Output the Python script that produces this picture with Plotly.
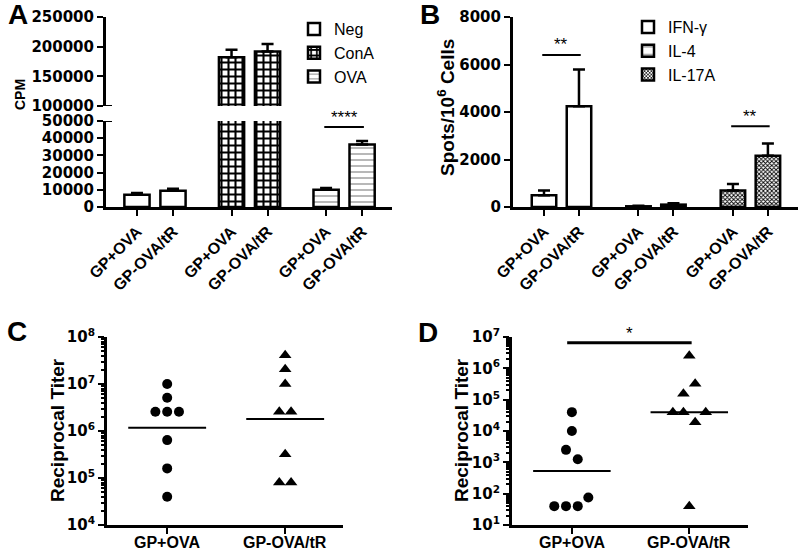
import numpy as np
import plotly.graph_objects as go

# ---------------- data ----------------
samples = ["GP+OVA", "GP-OVA/tR"]

# Panel A (CPM)
a_series = ["Neg", "ConA", "OVA"]
cpm_neg = [7100, 9400]
cpm_neg_err = [1000, 1200]
cpm_cona = [182300, 192000]
cpm_cona_err = [12400, 12300]
cpm_ova = [10000, 36300]
cpm_ova_err = [1000, 2000]
a_sig_level = 46500
a_sig_text = "****"

# Panel B (Spots/10^6 cells)
b_series = ["IFN-γ", "IL-4", "IL-17A"]
spots_ifn = [490, 4240]
spots_ifn_err = [210, 1545]
spots_il4 = [30, 100]
spots_il4_err = [20, 60]
spots_il17 = [700, 2160]
spots_il17_err = [270, 510]
b_sig_levels = [6400, 3400]
b_sig_groups = [0, 2]
b_sig_text = "**"

# Panel C (reciprocal titer)
c_gp_ova = [1.0e7, 5.1e6, 2.56e6, 2.56e6, 2.56e6, 6.4e5, 1.6e5, 4.0e4]
c_gp_ova_tr = [4.1e7, 2.05e7, 1.0e7, 2.56e6, 2.56e6, 3.2e5, 8.0e4, 8.0e4]
c_gp_ova_jit = [0, 0, -0.1, 0, 0.1, 0, 0, 0]
c_gp_ova_tr_jit = [0, 0, 0, -0.05, 0.05, 0, -0.05, 0.05]
c_decades = [4, 5, 6, 7, 8]

# Panel D (reciprocal titer)
d_gp_ova = [4.0e4, 1.0e4, 2.5e3, 1.25e3, 75, 40, 40, 40]
d_gp_ova_tr = [2.5e6, 3.2e5, 1.55e5, 4.0e4, 4.0e4, 4.0e4, 1.9e4, 40]
d_gp_ova_jit = [0, 0, -0.05, 0.05, 0.14, -0.15, -0.05, 0.05]
d_gp_ova_tr_jit = [0, 0.05, -0.05, -0.14, -0.05, 0.14, 0.05, 0]
d_decades = [1, 2, 3, 4, 5, 6, 7]
d_sig_level = 6.6e6
d_sig_text = "*"

# ---------------- style ----------------
W, H = 800, 550
FONT = "Arial, Liberation Sans, sans-serif"
WIDE = "DejaVu Sans, Verdana, sans-serif"
GAP_A = 2.625
GAP_B = 2.7
BAR_W = 0.7
LW = 2.5


def fx(p):
    return p / W


def fy(p):
    return 1 - p / H


def geo_mean(v):
    return float(10 ** np.mean(np.log10(v)))


fig = go.Figure()

pat_none = dict(shape="")
pat_cona = dict(shape="+", size=7, solidity=0.5, fgcolor="black", bgcolor="white")
pat_ova = dict(shape="-", size=6, solidity=0.2, fgcolor="#888888", bgcolor="white")
pat_il4 = dict(shape="-", size=11, solidity=0.15, fgcolor="#777777", bgcolor="white")
pat_il17 = dict(shape="x", size=3, solidity=0.5, fgcolor="black", bgcolor="white")


def err(arr):
    return dict(type="data", array=arr, arrayminus=[0] * len(arr), symmetric=False,
                color="black", thickness=LW, width=6)


# ----- Panel A -----
a_vals = [cpm_neg, cpm_cona, cpm_ova]
a_errs = [cpm_neg_err, cpm_cona_err, cpm_ova_err]
a_pats = [pat_none, pat_cona, pat_ova]
a_x_all = []
for gi, (name, vals, errs, pat) in enumerate(zip(a_series, a_vals, a_errs, a_pats)):
    xs = [gi * GAP_A + si for si in range(len(samples))]
    a_x_all += xs
    is_cona = name == "ConA"
    fig.add_trace(go.Bar(
        x=xs, y=vals, width=BAR_W, name=name, legend="legend",
        marker=dict(color="white", line=dict(color="black", width=LW), pattern=pat),
        error_y=None if is_cona else err(errs),
        xaxis="x", yaxis="y", showlegend=True,
    ))
    if is_cona:
        fig.add_trace(go.Bar(
            x=xs, y=vals, width=BAR_W, name=name, legend="legend",
            marker=dict(color="white", line=dict(color="black", width=LW), pattern=pat),
            error_y=err(errs), xaxis="x", yaxis="y2", showlegend=False,
        ))

# ----- Panel B -----
b_vals = [spots_ifn, spots_il4, spots_il17]
b_errs = [spots_ifn_err, spots_il4_err, spots_il17_err]
b_pats = [pat_none, pat_il4, pat_il17]
b_x_all = []
for gi, (name, vals, errs, pat) in enumerate(zip(b_series, b_vals, b_errs, b_pats)):
    xs = [gi * GAP_B + si for si in range(len(samples))]
    b_x_all += xs
    fig.add_trace(go.Bar(
        x=xs, y=vals, width=BAR_W, name=name, legend="legend2",
        marker=dict(color="white", line=dict(color="black", width=LW), pattern=pat),
        error_y=err(errs), xaxis="x3", yaxis="y3",
    ))


# ----- Panels C & D -----
def dots(xa, ya, vals, jit, pos, symbol, size):
    fig.add_trace(go.Scatter(
        x=[pos + j for j in jit], y=vals, mode="markers", showlegend=False,
        marker=dict(symbol=symbol, size=size, color="black"),
        xaxis=xa, yaxis=ya, cliponaxis=False,
    ))
    gm = geo_mean(vals)
    fig.add_trace(go.Scatter(
        x=[pos - 0.33, pos + 0.33], y=[gm, gm], mode="lines", showlegend=False,
        line=dict(color="black", width=2), xaxis=xa, yaxis=ya,
    ))


dots("x4", "y4", c_gp_ova, c_gp_ova_jit, 1, "circle", 10)
dots("x4", "y4", c_gp_ova_tr, c_gp_ova_tr_jit, 2, "triangle-up", 11)
dots("x5", "y5", d_gp_ova, d_gp_ova_jit, 1, "circle", 10)
dots("x5", "y5", d_gp_ova_tr, d_gp_ova_tr_jit, 2, "triangle-up", 11)

# ---------------- axes ----------------
bold_tick = dict(family=FONT, size=16, color="black", weight="bold")
wide_tick = dict(family=WIDE, size=15, color="black", weight="bold")
common = dict(showline=True, linecolor="black", linewidth=3, showgrid=False, zeroline=False,
              ticks="outside", tickcolor="black", tickwidth=2, ticklen=6, automargin=False)
minor_log = dict(ticks="outside", ticklen=3, tickwidth=1.5, tickcolor="black", dtick="D1")

fig.update_layout(
    template="none",
    xaxis=dict(domain=[fx(106), fx(392)], range=[-0.86, 7.08], anchor="y",
               tickvals=a_x_all, ticktext=samples * 3, tickangle=-45,
               tickfont=bold_tick, **common),
    yaxis=dict(domain=[fy(207), fy(121)], range=[0, 50000], dtick=10000, tickformat="d",
               anchor="x", tickfont=wide_tick, **common),
    yaxis2=dict(domain=[fy(106), fy(17)], range=[100000, 250000], dtick=50000, tickformat="d",
                anchor="x", tickfont=wide_tick, **common),
    xaxis3=dict(domain=[fx(513), fx(798)], range=[-0.886, 7.26], anchor="y3",
                tickvals=b_x_all, ticktext=samples * 3, tickangle=-45,
                tickfont=bold_tick, **common),
    yaxis3=dict(domain=[fy(207), fy(17)], range=[0, 8000], dtick=2000, tickformat="d",
                anchor="x3", tickfont=wide_tick, **common),
    xaxis4=dict(domain=[fx(107), fx(343)], range=[0.49, 2.49], anchor="y4",
                tickvals=[1, 2], showticklabels=False, **common),
    yaxis4=dict(domain=[fy(525), fy(337)], type="log", range=[4, 8],
                tickvals=[10 ** d for d in c_decades],
                ticktext=[f"10<sup>{d}</sup>" for d in c_decades],
                anchor="x4", tickfont=wide_tick, minor=minor_log, **common),
    xaxis5=dict(domain=[fx(512), fx(748)], range=[0.49, 2.5], anchor="y5",
                tickvals=[1, 2], showticklabels=False, **common),
    yaxis5=dict(domain=[fy(525), fy(337)], type="log", range=[1, 7],
                tickvals=[10 ** d for d in d_decades],
                ticktext=[f"10<sup>{d}</sup>" for d in d_decades],
                anchor="x5", tickfont=wide_tick, minor=minor_log, **common),
)

# ---------------- significance ----------------
shapes = []
annos = []


def sig(xref, yref, x0, x1, y, text, width=2, log=False, shift=10):
    shapes.append(dict(type="line", xref=xref, yref=yref, x0=x0, x1=x1, y0=y, y1=y,
                       line=dict(color="black", width=width)))
    annos.append(dict(xref=xref, yref=yref, x=(x0 + x1) / 2, y=np.log10(y) if log else y,
                      text=text, showarrow=False, yshift=shift,
                      font=dict(family=FONT, size=17, color="black")))


sig("x", "y", 2 * GAP_A - 0.05, 2 * GAP_A + 1.05, a_sig_level, a_sig_text)
for g, lvl in zip(b_sig_groups, b_sig_levels):
    sig("x3", "y3", g * GAP_B - 0.05, g * GAP_B + 1.05, lvl, b_sig_text)
sig("x5", "y5", 0.96, 2.02, d_sig_level, d_sig_text, width=3, log=True, shift=9)

# category labels under panels C and D
for xref in ["x4", "x5"]:
    for i, s in enumerate(samples):
        annos.append(dict(xref=xref, yref="paper", x=i + 1, y=fy(542), text=s,
                          showarrow=False, xanchor="center", yanchor="middle",
                          font=bold_tick))

# axis-break caps
shapes.append(dict(type="line", xref="paper", yref="y2", x0=fx(106), x1=fx(112),
                   y0=100000, y1=100000, line=dict(color="black", width=2)))
shapes.append(dict(type="line", xref="paper", yref="y", x0=fx(106), x1=fx(112),
                   y0=50000, y1=50000, line=dict(color="black", width=2)))

# panel letters
for letter, (px, py) in zip("ABCD", [(18, 15), (430, 14), (17, 331), (428, 332)]):
    annos.append(dict(xref="paper", yref="paper", x=fx(px), y=fy(py), text=letter,
                      showarrow=False, xanchor="center", yanchor="middle",
                      font=dict(family=FONT, size=28, color="black", weight="bold")))

# y titles
for text, (px, py), size in [
    ("CPM", (20, 95), 14),
    ("Spots/10<sup>6</sup> Cells", (446, 108), 19),
    ("Reciprocal Titer", (57, 430), 19),
    ("Reciprocal Titer", (461, 430), 19),
]:
    annos.append(dict(xref="paper", yref="paper", x=fx(px), y=fy(py), text=text,
                      textangle=-90, showarrow=False, xanchor="center", yanchor="middle",
                      font=dict(family=FONT, size=size, color="black", weight="bold")))

fig.update_layout(
    width=W, height=H, margin=dict(l=0, r=0, t=0, b=0, autoexpand=False),
    paper_bgcolor="white", plot_bgcolor="white", barmode="overlay",
    font=dict(family=FONT, color="black"),
    shapes=shapes, annotations=annos,
    legend=dict(x=fx(294), y=fy(12), xanchor="left", yanchor="top", bgcolor="rgba(0,0,0,0)",
                font=dict(family=FONT, size=16, color="black"), tracegroupgap=0, borderwidth=0),
    legend2=dict(x=fx(628), y=fy(10), xanchor="left", yanchor="top", bgcolor="rgba(0,0,0,0)",
                 font=dict(family=FONT, size=16, color="black"), tracegroupgap=0, borderwidth=0),
    showlegend=True,
)

fig.write_html(
    "out.html",
    config={"displayModeBar": False},
    post_script="document.body.style.margin='0';document.body.style.padding='0';"
                "document.body.style.overflow='hidden';",
)
